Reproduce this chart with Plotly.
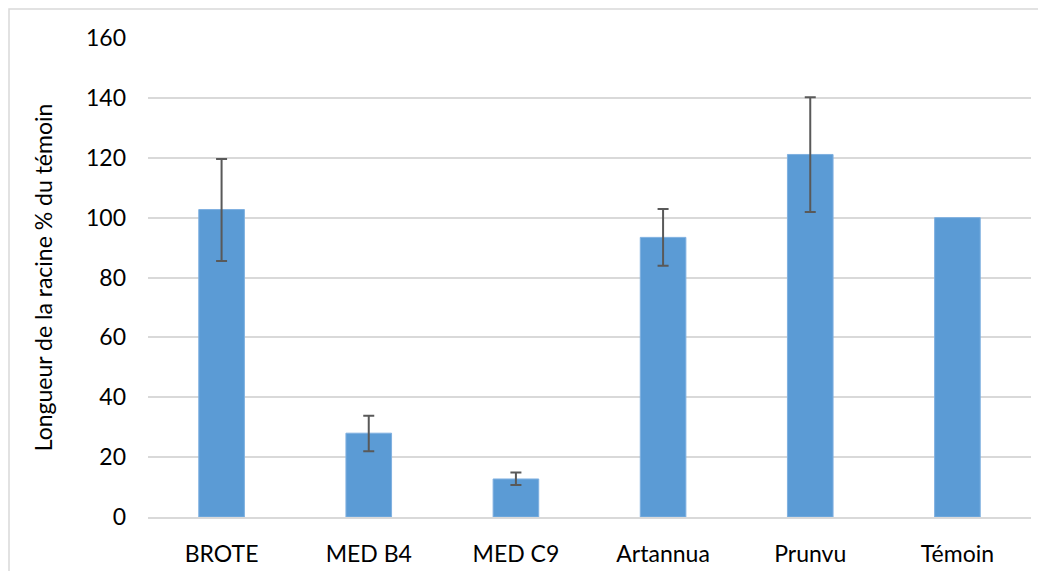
import plotly.graph_objects as go

categories = ["BROTE", "MED B4", "MED C9", "Artannua", "Prunvu", "Témoin"]
values = [102.7, 28.0, 12.7, 93.4, 121.1, 100.0]
err_plus = [16.9, 5.8, 2.2, 9.5, 19.1, None]
err_minus = [17.2, 6.0, 2.0, 9.5, 19.2, None]
y_ticks = [0, 20, 40, 60, 80, 100, 120, 140, 160]

# page body has an 8px margin; figure is sized to fit inside it
W, H = 1030, 563
L, R, T, B = 140, 7, 30, 54

fig = go.Figure()
fig.add_trace(go.Bar(
    x=categories, y=values,
    marker=dict(color="#5b9bd5", line=dict(color="#7fb0e0", width=1)),
    hoverinfo="skip",
))
# error bars only for points that have them
has_err = [i for i, e in enumerate(err_plus) if e is not None]
fig.add_trace(go.Scatter(
    x=[categories[i] for i in has_err], y=[values[i] for i in has_err],
    mode="markers", marker=dict(opacity=0, size=1),
    error_y=dict(type="data", symmetric=False,
                 array=[err_plus[i] for i in has_err],
                 arrayminus=[err_minus[i] for i in has_err],
                 color="#595959", thickness=2, width=5.5, visible=True),
))

fig.update_layout(
    width=W, height=H,
    margin=dict(l=L, r=R, t=T, b=B, autoexpand=False),
    paper_bgcolor="white", plot_bgcolor="white",
    font=dict(family="Lato, 'Open Sans', sans-serif", color="#000000", size=23),
    bargap=0.69,
    showlegend=False,
    xaxis=dict(showgrid=False, showline=True, linecolor="#d9d9d9", linewidth=2,
               automargin=False,
               ticks="", ticklabelstandoff=15, tickfont=dict(size=23)),
    yaxis=dict(range=[0, 160], tickvals=y_ticks, showgrid=True, gridcolor="#d9d9d9",
               gridwidth=2, zeroline=False, showline=False, ticks="",
               automargin=False,
               ticklabelstandoff=21, tickfont=dict(size=23),
               title=dict(text="Longueur de la racine % du témoin", standoff=26,
                          font=dict(size=23))),
    shapes=[dict(type="rect", xref="paper", yref="paper",
                 x0=(1 - L) / (W - L - R), x1=(W + 20 - L) / (W - L - R),
                 y0=-(H + 20 - (H - B)) / (H - T - B), y1=1 + (T - 1) / (H - T - B),
                 line=dict(color="#d9d9d9", width=1.5), fillcolor="rgba(0,0,0,0)",
                 layer="below")],
)

fig.write_html("out.html")
